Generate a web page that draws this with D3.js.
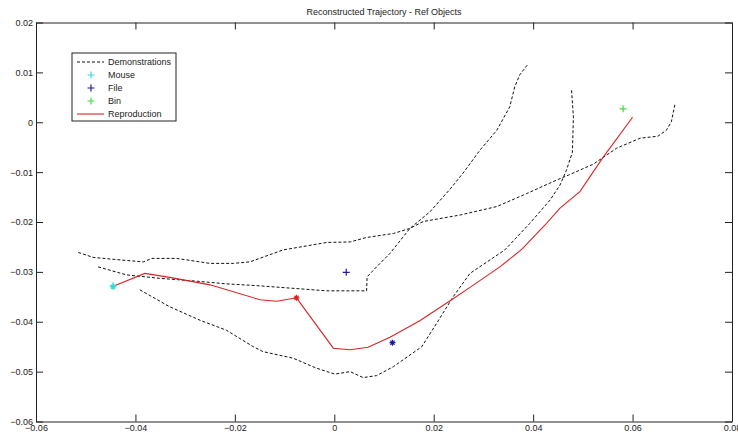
<!DOCTYPE html>
<html>
<head>
<meta charset="utf-8">
<script src="https://cdn.jsdelivr.net/npm/d3@7"></script>
<style>
  body { margin: 0; background: #fff; }
  svg { display: block; font-family: "Liberation Sans", Arial, sans-serif; }
  .line { fill: none; }
</style>
</head>
<body>
<script>
var w = 738;
var h = 436;

var xTicks = [-0.06, -0.04, -0.02, 0, 0.02, 0.04, 0.06, 0.08];
var yTicks = [0.02, 0.01, 0, -0.01, -0.02, -0.03, -0.04, -0.05, -0.06];

var demo1X = [-0.0515, -0.0485, -0.0431, -0.0384, -0.0367, -0.0317, -0.0250, -0.0203, -0.0170, -0.0103, -0.0015, 0.0032, 0.0065, 0.0119, 0.0152, 0.0179, 0.0253, 0.0327, 0.0387, 0.0447, 0.0471, 0.0494, 0.0521, 0.0568, 0.0615, 0.0651, 0.0668, 0.0678, 0.0685];
var demo1Y = [-0.0261, -0.0271, -0.0276, -0.0280, -0.0273, -0.0273, -0.0283, -0.0283, -0.0280, -0.0256, -0.0241, -0.0240, -0.0231, -0.0223, -0.0213, -0.0199, -0.0186, -0.0169, -0.0143, -0.0116, -0.0106, -0.0096, -0.0084, -0.0052, -0.0032, -0.0028, -0.0016, 0.0001, 0.0035];

var demo2X = [-0.0475, -0.0418, -0.0351, -0.0284, -0.0217, -0.0150, -0.0015, 0.0065, 0.0066, 0.0085, 0.0112, 0.0152, 0.0192, 0.0233, 0.0259, 0.0293, 0.0327, 0.0353, 0.0363, 0.0373, 0.0390];
var demo2Y = [-0.0290, -0.0306, -0.0313, -0.0318, -0.0324, -0.0328, -0.0338, -0.0338, -0.0310, -0.0290, -0.0263, -0.0213, -0.0180, -0.0134, -0.0102, -0.0056, -0.0016, 0.0031, 0.0071, 0.0095, 0.0117];

var demo3X = [-0.0391, -0.0331, -0.0270, -0.0217, -0.0163, -0.0143, -0.0083, -0.0036, 0.0001, 0.0032, 0.0058, 0.0085, 0.0119, 0.0176, 0.0206, 0.0239, 0.0273, 0.0343, 0.0393, 0.0434, 0.0454, 0.0467, 0.0479, 0.0481, 0.0477];
var demo3Y = [-0.0336, -0.0370, -0.0397, -0.0417, -0.0450, -0.0460, -0.0473, -0.0493, -0.0505, -0.0500, -0.0512, -0.0508, -0.0490, -0.0450, -0.0403, -0.0350, -0.0303, -0.0256, -0.0203, -0.0156, -0.0126, -0.0096, -0.0060, 0.0011, 0.0068];

var reproX = [-0.0447, -0.0381, -0.0331, -0.0250, -0.0149, -0.0116, -0.0076, -0.0002, 0.0032, 0.0068, 0.0112, 0.0172, 0.0233, 0.0273, 0.0333, 0.0377, 0.0424, 0.0454, 0.0494, 0.0541, 0.0600];
var reproY = [-0.0330, -0.0303, -0.0311, -0.0326, -0.0356, -0.0359, -0.0352, -0.0453, -0.0456, -0.0451, -0.0431, -0.0398, -0.0358, -0.0331, -0.0290, -0.0255, -0.0206, -0.0172, -0.0139, -0.0070, 0.0010];

var objNames = ['Mouse', 'File', 'Bin'];
var objColors = ['#33dddd', '#1a1aa6', '#44dd44'];
var objX = [-0.0445, 0.0024, 0.0581];
var objY = [-0.0328, -0.0301, 0.0027];

// where the reproduction passes the objects
var starX = [-0.0445, 0.0117, -0.0076];
var starY = [-0.0330, -0.0442, -0.0352];
var starColors = ['#33dddd', '#1a1aa6', '#dd2222'];

var m = {l: 36, r: 6, t: 22.5, b: 14.5};

var svg = d3.select('body').append('svg')
  .attr('width', w)
  .attr('height', h);

var x = d3.scaleLinear().domain([-0.06, 0.08]).range([m.l, w - m.r]);
var y = d3.scaleLinear().domain([-0.06, 0.02]).range([h - m.b, m.t]);

var fmt = function(d) { return d === 0 ? '0' : d3.format('.2f')(d); };

svg.append('text')
  .attr('x', (x.range()[0] + x.range()[1]) / 2)
  .attr('y', 15)
  .attr('text-anchor', 'middle')
  .attr('font-size', 9)
  .attr('fill', '#222')
  .text('Reconstructed Trajectory - Ref Objects');

// box + inward ticks on all 4 sides
var tl = 7;
svg.append('g').attr('transform', `translate(0,${y(-0.06)})`)
  .call(d3.axisBottom(x).tickValues(xTicks).tickFormat(fmt).tickSizeInner(-tl).tickSizeOuter(0).tickPadding(3));
svg.append('g').attr('transform', `translate(0,${y(0.02)})`)
  .call(d3.axisTop(x).tickValues(xTicks).tickFormat('').tickSizeInner(-tl).tickSizeOuter(0));
svg.append('g').attr('transform', `translate(${x(-0.06)},0)`)
  .call(d3.axisLeft(y).tickValues(yTicks).tickFormat(fmt).tickSizeInner(-tl).tickSizeOuter(0).tickPadding(3));
svg.append('g').attr('transform', `translate(${x(0.08)},0)`)
  .call(d3.axisRight(y).tickValues(yTicks).tickFormat('').tickSizeInner(-tl).tickSizeOuter(0));

svg.selectAll('.domain, .tick line').attr('stroke', '#222');
svg.selectAll('.tick text').attr('font-size', 9).attr('fill', '#222').attr('font-family', '"Liberation Sans", Arial, sans-serif');

var line = d3.line().x(d => x(d[0])).y(d => y(d[1]));

[[demo1X, demo1Y], [demo2X, demo2Y], [demo3X, demo3Y]].forEach(function(dm) {
  svg.append('path')
    .attr('class', 'line')
    .attr('stroke', '#111')
    .attr('stroke-width', 1)
    .attr('stroke-dasharray', '3,2')
    .attr('d', line(d3.zip(dm[0], dm[1])));
});

svg.append('path')
  .attr('class', 'line')
  .attr('stroke', '#dd2222')
  .attr('stroke-width', 1.1)
  .attr('d', line(d3.zip(reproX, reproY)));

function plus(g, cx, cy, c, s) {
  g.append('path')
    .attr('d', `M ${cx-s} ${cy} H ${cx+s} M ${cx} ${cy-s} V ${cy+s}`)
    .attr('stroke', c)
    .attr('stroke-width', 1.2)
    .attr('fill', 'none');
}
function star(g, cx, cy, c, s) {
  var k = s * 0.7;
  g.append('path')
    .attr('d', `M ${cx-s} ${cy} H ${cx+s} M ${cx} ${cy-s} V ${cy+s} M ${cx-k} ${cy-k} L ${cx+k} ${cy+k} M ${cx-k} ${cy+k} L ${cx+k} ${cy-k}`)
    .attr('stroke', c)
    .attr('stroke-width', 1.2)
    .attr('fill', 'none');
}

starX.forEach(function(v, i) { star(svg, x(v), y(starY[i]), starColors[i], 3); });
objX.forEach(function(v, i) { plus(svg, x(v), y(objY[i]), objColors[i], 3.5); });

// legend
var lg = svg.append('g').attr('transform', 'translate(72,53)');
lg.append('rect')
  .attr('width', 104)
  .attr('height', 68)
  .attr('fill', '#fff')
  .attr('stroke', '#222');

var labels = ['Demonstrations'].concat(objNames, ['Reproduction']);
labels.forEach(function(t, i) {
  var ly = 9 + i * 13;
  if (i === 0) {
    lg.append('line').attr('x1', 5).attr('x2', 32).attr('y1', ly).attr('y2', ly)
      .attr('stroke', '#111').attr('stroke-dasharray', '3,2');
  } else if (i === 4) {
    lg.append('line').attr('x1', 5).attr('x2', 32).attr('y1', ly).attr('y2', ly)
      .attr('stroke', '#dd2222').attr('stroke-width', 1.1);
  } else {
    plus(lg, 19, ly, objColors[i - 1], 3.5);
  }
  lg.append('text')
    .attr('x', 36)
    .attr('y', ly + 3.2)
    .attr('font-size', 9)
    .attr('fill', '#222')
    .text(t);
});
</script>
</body>
</html>
